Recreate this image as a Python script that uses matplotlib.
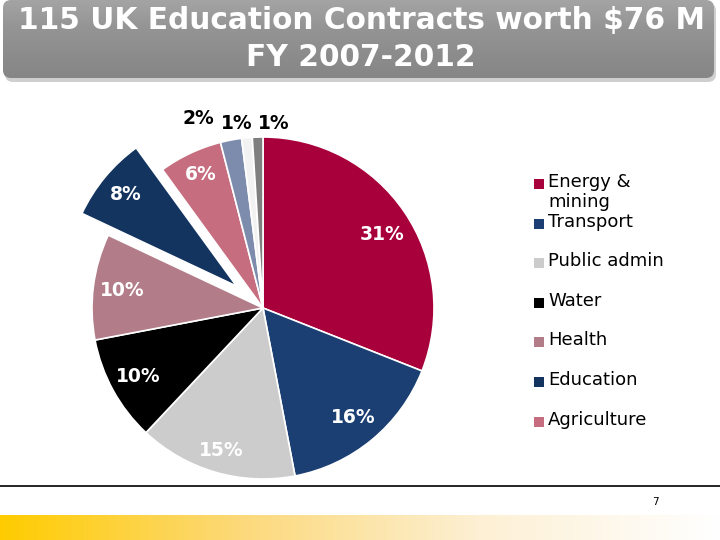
import numpy as np
import matplotlib
matplotlib.use("Agg")
import matplotlib.pyplot as plt
from matplotlib.patches import FancyBboxPatch, Rectangle
from matplotlib.colors import LinearSegmentedColormap

# ---- data ----
sectors = ["Energy & mining", "Transport", "Public admin", "Water", "Health",
           "Education", "Agriculture", "Other A", "Other B", "Other C"]
shares = [31, 16, 15, 10, 10, 8, 6, 2, 1, 1]
legend_labels = ["Energy &\nmining", "Transport", "Public admin", "Water",
                 "Health", "Education", "Agriculture"]
title_lines = ["115 UK Education Contracts worth $76 M", "FY 2007-2012"]
page_number = "7"

# ---- style ----
colors = ["#A8003A", "#1B3F72", "#CCCCCC", "#000000", "#B27D89",
          "#12345F", "#C66D80", "#7D8CAD", "#F2F2F2", "#7F7F7F"]
explode = [0, 0, 0, 0, 0, 0.2, 0, 0, 0, 0]

fig = plt.figure(figsize=(7.2, 5.4), dpi=100)
W, H = 720, 540

def fx(px): return px / W
def fy(py): return 1 - py / H

# title box with gradient
tax = fig.add_axes([0, fy(84), 1, 84 / H])
tax.axis("off")
grad = np.linspace(0, 1, 100).reshape(-1, 1)
gcm = LinearSegmentedColormap.from_list("g", ["#A4A4A4", "#959595", "#8D8D8D", "#868686"])
shadow = FancyBboxPatch((5, 3), 711, 79, boxstyle="round,pad=0,rounding_size=8",
                        facecolor="#C4C4C4", edgecolor="none", alpha=0.8, zorder=0)
tax.add_patch(shadow)
box = FancyBboxPatch((3, 0), 711, 78, boxstyle="round,pad=0,rounding_size=8",
                     facecolor="none", edgecolor="none")
tax.add_patch(box)
im = tax.imshow(grad, extent=[3, 714, 78, 0], cmap=gcm, aspect="auto",
                vmin=0, vmax=1, zorder=2)
im.set_clip_path(box)
tax.set_xlim(0, 720); tax.set_ylim(84, 0)
tax.text(361, 21, title_lines[0], color="white", fontsize=21.3, fontweight="bold",
         ha="center", va="center", zorder=3)
tax.text(361, 57, title_lines[1], color="white", fontsize=21.3, fontweight="bold",
         ha="center", va="center", zorder=3)

# pie
cx, cy, R = 263, 308, 171
lim = 1.3
side = 2 * lim * R
ax = fig.add_axes([fx(cx - side / 2), fy(cy + side / 2), side / W, side / H])
wedges, _ = ax.pie(shares, colors=colors, explode=explode, startangle=90,
                   counterclock=False, radius=1,
                   wedgeprops=dict(edgecolor="white", linewidth=1.2))
ax.set_xlim(-lim, lim); ax.set_ylim(-lim, lim); ax.set_aspect("equal")
ax.axis("off")

label_r = [0.82, 0.83, 0.87, 0.83, 0.83, 0.84, 0.86, 1.17, 1.09, 1.08]
label_shift = [-2.5, 0, 0, 0, 0, 0, 0, 8, 2.6, -5.2]
for w, s, r, sh, e in zip(wedges, shares, label_r, label_shift, explode):
    m0 = np.deg2rad((w.theta1 + w.theta2) / 2)
    mid = np.deg2rad((w.theta1 + w.theta2) / 2 + sh)
    x = e * np.cos(m0) + r * np.cos(mid)
    y = e * np.sin(m0) + r * np.sin(mid)
    col = "white" if r < 1 else "black"
    ax.text(x, y, f"{s}%", ha="center", va="center", color=col,
            fontsize=13.5, fontweight="bold")

# legend (manual)
for i, (lab, c) in enumerate(zip(legend_labels, colors)):
    ytop = 184 + i * 39.6
    fig.patches.append(Rectangle((fx(534), fy(ytop + 5)), 10 / W, 10 / H,
                                 transform=fig.transFigure, facecolor=c,
                                 edgecolor="none"))
    fig.text(fx(548), fy(ytop - 11), lab, fontsize=13, va="top", ha="left",
             color="black", linespacing=1.12)

# bottom rule, page number, yellow bar
fig.add_artist(plt.Line2D([0, 1], [fy(486), fy(486)], color="black", lw=1.2))
fig.text(fx(655), fy(502), page_number, fontsize=7.5, ha="center", va="center")
bax = fig.add_axes([0, 0, 1, 25 / H])
bax.axis("off")
ycm = LinearSegmentedColormap.from_list("y", ["#FFCC00", "#FCD97A", "#FDF0D4", "#FFFFFF"])
bax.imshow(np.linspace(0, 1, 256).reshape(1, -1), cmap=ycm, aspect="auto",
           extent=[0, 720, 0, 1])
bax.set_xlim(0, 720)

fig.savefig("out.png", dpi=100)
